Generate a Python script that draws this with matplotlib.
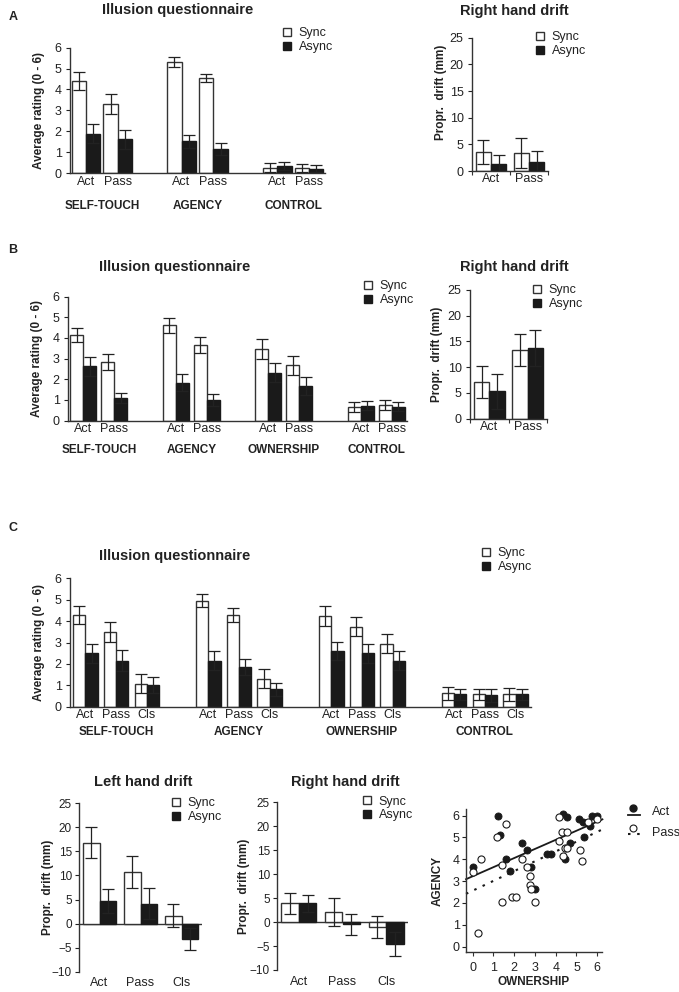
import numpy as np
import matplotlib
matplotlib.use('Agg')
import matplotlib.pyplot as plt
from matplotlib.lines import Line2D

plt.rcParams['font.family'] = ['Liberation Sans', 'DejaVu Sans']

# ---- data ----
conds2 = ['Act', 'Pass']
conds3 = ['Act', 'Pass', 'Cls']
groups_a = ['SELF-TOUCH', 'AGENCY', 'CONTROL']
groups_bc = ['SELF-TOUCH', 'AGENCY', 'OWNERSHIP', 'CONTROL']

# panel A questionnaire (order: group x condition)
qa_sync = [4.4, 3.3, 5.3, 4.55, 0.25, 0.25]
qa_sync_err = [0.42, 0.47, 0.24, 0.2, 0.22, 0.2]
qa_async = [1.88, 1.62, 1.51, 1.15, 0.32, 0.2]
qa_async_err = [0.46, 0.45, 0.33, 0.31, 0.2, 0.17]
# panel A right hand drift
da_sync = [3.6, 3.3]
da_sync_err = [2.2, 2.8]
da_async = [1.4, 1.7]
da_async_err = [1.6, 2.0]

# panel B questionnaire
qb_sync = [4.15, 2.84, 4.6, 3.65, 3.48, 2.67, 0.67, 0.78]
qb_sync_err = [0.35, 0.4, 0.35, 0.38, 0.48, 0.45, 0.23, 0.24]
qb_async = [2.62, 1.08, 1.84, 1.0, 2.32, 1.68, 0.73, 0.68]
qb_async_err = [0.47, 0.24, 0.4, 0.27, 0.46, 0.45, 0.22, 0.22]
# panel B right hand drift
db_sync = [7.1, 13.3]
db_sync_err = [3.2, 3.05]
db_async = [5.3, 13.8]
db_async_err = [3.4, 3.5]

# panel C questionnaire
qc_sync = [4.29, 3.49, 1.08, 4.96, 4.29, 1.31, 4.24, 3.74, 2.95, 0.62, 0.58, 0.58]
qc_sync_err = [0.43, 0.45, 0.44, 0.29, 0.33, 0.44, 0.45, 0.45, 0.45, 0.3, 0.26, 0.3]
qc_async = [2.49, 2.15, 1.03, 2.15, 1.87, 0.81, 2.6, 2.49, 2.15, 0.58, 0.53, 0.58]
qc_async_err = [0.45, 0.5, 0.38, 0.44, 0.38, 0.31, 0.42, 0.44, 0.45, 0.27, 0.3, 0.27]
# panel C left / right hand drift
dl_sync = [16.8, 10.7, 1.6]
dl_sync_err = [3.25, 3.25, 2.4]
dl_async = [4.65, 4.17, -3.26]
dl_async_err = [2.5, 3.25, 2.3]
dr_sync = [3.88, 2.15, -0.97]
dr_sync_err = [2.2, 2.9, 2.3]
dr_async = [3.88, -0.48, -4.64]
dr_async_err = [1.8, 2.2, 2.5]

# scatter ownership vs agency
act_own = [0, 1.2, 1.3, 1.62, 1.81, 2.4, 2.6, 2.8, 3.0, 3.57, 3.78, 4.37, 4.56, 4.45,
           4.69, 5.14, 5.33, 5.36, 5.65, 5.73, 5.97]
act_agency = [3.63, 6.0, 5.13, 4.03, 3.44, 4.73, 4.44, 3.63, 2.63, 4.24, 4.24, 6.05, 5.94, 4.01,
              4.74, 5.82, 5.72, 5.02, 5.54, 6.0, 6.0]
pass_own = [0, 0.42, 0.24, 1.17, 1.62, 1.41, 1.41, 1.89, 2.1, 2.4, 2.6, 2.77, 2.77, 2.8, 2.98,
            4.18, 4.18, 4.29, 4.37, 4.45, 4.56, 4.56, 5.17, 5.25, 5.57, 5.97]
pass_agency = [3.41, 4.03, 0.64, 5.02, 5.62, 3.72, 2.04, 2.25, 2.25, 4.03, 3.63, 3.21, 2.83, 2.65, 2.04,
               5.92, 4.82, 5.23, 4.13, 4.52, 4.52, 5.23, 4.44, 3.93, 5.72, 5.82]
act_fit = (0.417, 3.22)    # slope, intercept of drawn regression line
pass_fit = (0.449, 2.56)

# ---- figure ----
W, H = 679, 992
fig = plt.figure(figsize=(W / 100, H / 100), dpi=100)
TXT = '#222222'
EDGE = '#333333'
DARK = '#1a1a1a'


def fx(px):
    return px / W


def fy(py):
    return 1 - py / H


def axes_px(left, top, right, bottom):
    return fig.add_axes([fx(left), fy(bottom), (right - left) / W, (bottom - top) / H])


def base_style(ax):
    for s in ['top', 'right']:
        ax.spines[s].set_visible(False)
    for s in ['left', 'bottom']:
        ax.spines[s].set_color(EDGE)
        ax.spines[s].set_linewidth(1)
    ax.tick_params(axis='y', length=3, width=0.8, pad=3, labelsize=9, colors=TXT)
    ax.tick_params(axis='x', labelsize=9, colors=TXT)


def ylabel_at(ax, text, cx, cy=None):
    l, b, w, h = ax.get_position().bounds
    ax.set_ylabel(text, fontsize=8.5, fontweight='bold', color=TXT)
    x = ((cx + 7) / W - l) / w
    y = 0.5 if cy is None else (fy(cy) - b) / h
    ax.yaxis.set_label_coords(x, y)


def bars(ax, pos, sync, sync_err, asyn, asyn_err, w):
    pos = np.asarray(pos, float)
    ax.bar(pos - w / 2, sync, w, color='white', edgecolor=EDGE, linewidth=1, zorder=2)
    ax.bar(pos + w / 2, asyn, w, color=DARK, edgecolor=DARK, linewidth=1, zorder=2)
    kw = dict(fmt='none', ecolor='#222222', elinewidth=0.9, capsize=4.5, capthick=0.9, zorder=3)
    ax.errorbar(pos - w / 2, sync, yerr=sync_err, **kw)
    ax.errorbar(pos + w / 2, asyn, yerr=asyn_err, **kw)


def legend_at(ax, left, cy):
    h = [Line2D([], [], ls='none', marker='s', ms=5.5, mfc='white', mec=EDGE, mew=1),
         Line2D([], [], ls='none', marker='s', ms=5.5, mfc=DARK, mec=DARK, mew=1)]
    leg = ax.legend(h, ['Sync', 'Async'], loc='center left', bbox_to_anchor=(fx(left), fy(cy)),
                    bbox_transform=fig.transFigure, frameon=False, fontsize=9,
                    handlelength=0.8, handletextpad=0.55, labelspacing=0.15,
                    borderpad=0, borderaxespad=0)
    for t in leg.get_texts():
        t.set_color(TXT)


def questionnaire(ax, groups, conds, gstep, sync, serr, asyn, aerr, w, goff_px):
    n = len(conds)
    pos = [g * gstep + c for g in range(len(groups)) for c in range(n)]
    bars(ax, pos, sync, serr, asyn, aerr, w)
    base_style(ax)
    ax.set_xlim(-0.5, (len(groups) - 1) * gstep + n - 0.5)
    ax.set_ylim(0, 6)
    ax.set_yticks(range(7))
    ax.set_xticks(pos)
    ax.set_xticklabels(conds * len(groups))
    ax.tick_params(axis='x', length=0, pad=2)
    for g, name in enumerate(groups):
        cx = g * gstep + (n - 1) / 2
        ax.annotate(name, xy=(cx, 0), xycoords=('data', 'axes fraction'),
                    xytext=(0, -goff_px * 0.72), textcoords='offset points',
                    ha='center', va='center', fontsize=8.5, fontweight='bold', color=TXT,
                    annotation_clip=False)


def drift(ax, conds, sync, serr, asyn, aerr, ylo):
    n = len(conds)
    pos = np.arange(n)
    bars(ax, pos, sync, serr, asyn, aerr, 0.4)
    base_style(ax)
    ax.set_xlim(-0.5, n - 0.5)
    ax.set_ylim(ylo, 25)
    ax.set_yticks(np.arange(ylo, 26, 5))
    ax.set_xticks(pos)
    ax.set_xticklabels(conds)
    if ylo < 0:
        ax.spines['bottom'].set_visible(False)
        ax.axhline(0, color=EDGE, lw=1, zorder=1)
        ax.tick_params(axis='x', length=0, pad=4)
        ax.tick_params(axis='y', labelsize=8.5, pad=2)
    else:
        ax.set_xticks(np.arange(n + 1) - 0.5, minor=True)
        ax.tick_params(axis='x', which='minor', length=3, width=0.8, color=EDGE)
        ax.tick_params(axis='x', which='major', length=0, pad=1.5)


def title(cx, cy, text):
    fig.text(fx(cx), fy(cy), text, ha='center', va='center', fontsize=10.5,
             fontweight='bold', color=TXT)


def letter(cy, text):
    fig.text(fx(13), fy(cy), text, ha='center', va='center', fontsize=9,
             fontweight='bold', color=TXT)


# ---- panel A ----
letter(17, 'A')
ax = axes_px(70, 47.7, 325, 173)
questionnaire(ax, groups_a, conds2, 3, qa_sync, qa_sync_err, qa_async, qa_async_err, 0.45, 33)
ylabel_at(ax, 'Average rating (0 - 6)', 38)
legend_at(ax, 282, 40)
title(178, 10, 'Illusion questionnaire')

ax = axes_px(472, 37.7, 548, 171)
drift(ax, conds2, da_sync, da_sync_err, da_async, da_async_err, 0)
ylabel_at(ax, 'Propr.  drift (mm)', 440, 92)
legend_at(ax, 535, 44)
title(514, 11, 'Right hand drift')

# ---- panel B ----
letter(250, 'B')
ax = axes_px(68, 296.5, 407, 420.7)
questionnaire(ax, groups_bc, conds2, 3, qb_sync, qb_sync_err, qb_async, qb_async_err, 0.42, 29)
ylabel_at(ax, 'Average rating (0 - 6)', 36)
legend_at(ax, 363, 293)
title(175, 267, 'Illusion questionnaire')

ax = axes_px(470, 290, 547, 418.5)
drift(ax, conds2, db_sync, db_sync_err, db_async, db_async_err, 0)
ylabel_at(ax, 'Propr.  drift (mm)', 436)
legend_at(ax, 532, 297)
title(514, 267, 'Right hand drift')

# ---- panel C ----
letter(528, 'C')
ax = axes_px(70, 578.3, 531, 706.7)
questionnaire(ax, groups_bc, conds3, 4, qc_sync, qc_sync_err, qc_async, qc_async_err, 0.4, 25)
ylabel_at(ax, 'Average rating (0 - 6)', 38)
legend_at(ax, 481, 560)
title(175, 556, 'Illusion questionnaire')

ax = axes_px(79, 803.3, 202, 971.7)
drift(ax, conds3, dl_sync, dl_sync_err, dl_async, dl_async_err, -10)
ylabel_at(ax, 'Propr.  drift (mm)', 47)
legend_at(ax, 171, 810)
title(143, 782, 'Left hand drift')

ax = axes_px(277, 802.3, 408, 970)
drift(ax, conds3, dr_sync, dr_sync_err, dr_async, dr_async_err, -10)
ylabel_at(ax, 'Propr.  drift (mm)', 243)
legend_at(ax, 362, 808.5)
title(345, 782, 'Right hand drift')

# ---- scatter ----
ax = axes_px(466, 809, 602, 952.3)
base_style(ax)
ax.scatter(act_own, act_agency, s=26, color=DARK, edgecolor=DARK, linewidth=0.6, zorder=3)
ax.scatter(pass_own, pass_agency, s=26, color='white', edgecolor=DARK, linewidth=0.8, zorder=4)
xs = np.array([-0.32, 6.25])
ax.plot(xs, act_fit[0] * xs + act_fit[1], color=DARK, lw=1.3, zorder=2, clip_on=False)
xs2 = np.array([-0.32, 6.3])
ax.plot(xs2, pass_fit[0] * xs2 + pass_fit[1], color=DARK, lw=1.5, ls=(0, (1.2, 3.2)),
        zorder=2, clip_on=False)
ax.set_xlim(-0.32, 6.23)
ax.set_ylim(-0.26, 6.3)
ax.set_xticks(range(7))
ax.set_yticks(range(7))
ax.tick_params(axis='x', length=3, width=0.8, pad=4, color=EDGE)
ax.tick_params(axis='y', pad=1.5)
ylabel_at(ax, 'AGENCY', 437)
ax.set_xlabel('OWNERSHIP', fontsize=8.5, fontweight='bold', color=TXT)
l, b, w, h = ax.get_position().bounds
ax.xaxis.set_label_coords(0.5, (fy(976) - b) / h)

# scatter legend
fig.add_artist(Line2D([fx(633)], [fy(808)], marker='o', ms=5, color=DARK, ls='none',
                      transform=fig.transFigure))
fig.add_artist(Line2D([fx(628), fx(640)], [fy(814.5)] * 2, color=DARK, lw=1.3,
                      transform=fig.transFigure))
fig.text(fx(652), fy(812), 'Act', ha='left', va='center', fontsize=9, color=TXT)
fig.add_artist(Line2D([fx(633)], [fy(828)], marker='o', ms=5, mfc='white', mec=DARK, mew=0.8,
                      ls='none', transform=fig.transFigure))
fig.add_artist(Line2D([fx(628), fx(643)], [fy(833.5)] * 2, color=DARK, lw=1.5,
                      ls=(0, (1.2, 3.2)), transform=fig.transFigure))
fig.text(fx(652), fy(833), 'Pass', ha='left', va='center', fontsize=9, color=TXT)

fig.savefig('out.png', dpi=100)
